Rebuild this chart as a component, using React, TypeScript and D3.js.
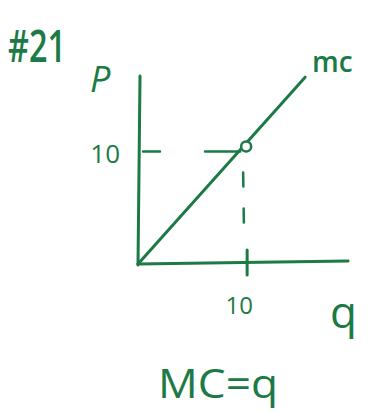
import React from "react";
import * as d3 from "d3";

// Marginal cost schedule MC = q
const mcQ = [0, 15.6];
const mcP = [0, 15.9];
const markedQ = 10;
const markedP = 10;
const qTicks = [10];
const pTicks = [10];

const W = 369;
const H = 413;
const INK = "#1b7a45";
const FONT = "'Open Sans', 'DejaVu Sans', sans-serif";

export default function App() {
  const x = d3.scaleLinear().domain([0, 19.6]).range([138, 348]);
  const y = d3.scaleLinear().domain([0, 16]).range([264, 76]);

  const mcLine = d3
    .line<number>()
    .x((_, i) => x(mcQ[i]))
    .y((_, i) => y(mcP[i]));

  const guideY = y(markedP) + 5;
  const guideX0 = x(0) + 5;
  const guideX1 = x(markedQ) - 5;

  return (
    <svg
      width={W}
      height={H}
      style={{ position: "absolute", left: 0, top: 0, background: "#fff" }}
    >
      <g stroke={INK} fill="none" strokeLinecap="round">
        {/* axes */}
        <line x1={x(0)} y1={y(0) + 1} x2={x(0) + 2} y2={y(16)} strokeWidth={3} />
        <line x1={x(0)} y1={y(0)} x2={x(19.6)} y2={y(0) - 3} strokeWidth={3} />
        {/* MC line */}
        <path d={mcLine(mcQ) ?? ""} strokeWidth={3} />
        {/* dashed guides to the marked point */}
        <line
          x1={guideX0}
          y1={guideY}
          x2={guideX1}
          y2={guideY}
          strokeWidth={2.5}
          strokeDasharray={`17 45 ${guideX1 - guideX0 - 62} 100`}
        />
        <line
          x1={x(markedQ) - 2}
          y1={y(markedP) + 26}
          x2={x(markedQ) - 1}
          y2={y(0) - 22}
          strokeWidth={2.5}
          strokeDasharray="14 22"
        />
        {/* ticks */}
        {qTicks.map((t) => (
          <line key={t} x1={x(t) + 2} y1={y(0) - 14} x2={x(t) + 2} y2={y(0) + 11} strokeWidth={3} />
        ))}
        {/* open point */}
        <circle cx={x(markedQ) + 1} cy={y(markedP)} r={5} strokeWidth={2.5} fill="#fff" />
      </g>
      <g fill={INK} fontFamily={FONT}>
        {pTicks.map((t) => (
          <text key={t} x={x(0) - 18} y={y(t) + 16} fontSize={26} textAnchor="end">
            {t}
          </text>
        ))}
        {qTicks.map((t) => (
          <text key={t} x={x(t) - 6} y={y(0) + 50} fontSize={24} textAnchor="middle">
            {t}
          </text>
        ))}
        <text x={8} y={62} fontSize={46} fontWeight={600} textLength={58} lengthAdjust="spacingAndGlyphs">
          #21
        </text>
        <text x={90} y={92} fontSize={36} fontStyle="italic">P</text>
        <text x={312} y={72} fontSize={28} fontWeight={600}>mc</text>
        <text x={330} y={328} fontSize={44}>q</text>
        <text x={158} y={398} fontSize={40} textLength={120} lengthAdjust="spacingAndGlyphs">
          MC=q
        </text>
      </g>
    </svg>
  );
}
